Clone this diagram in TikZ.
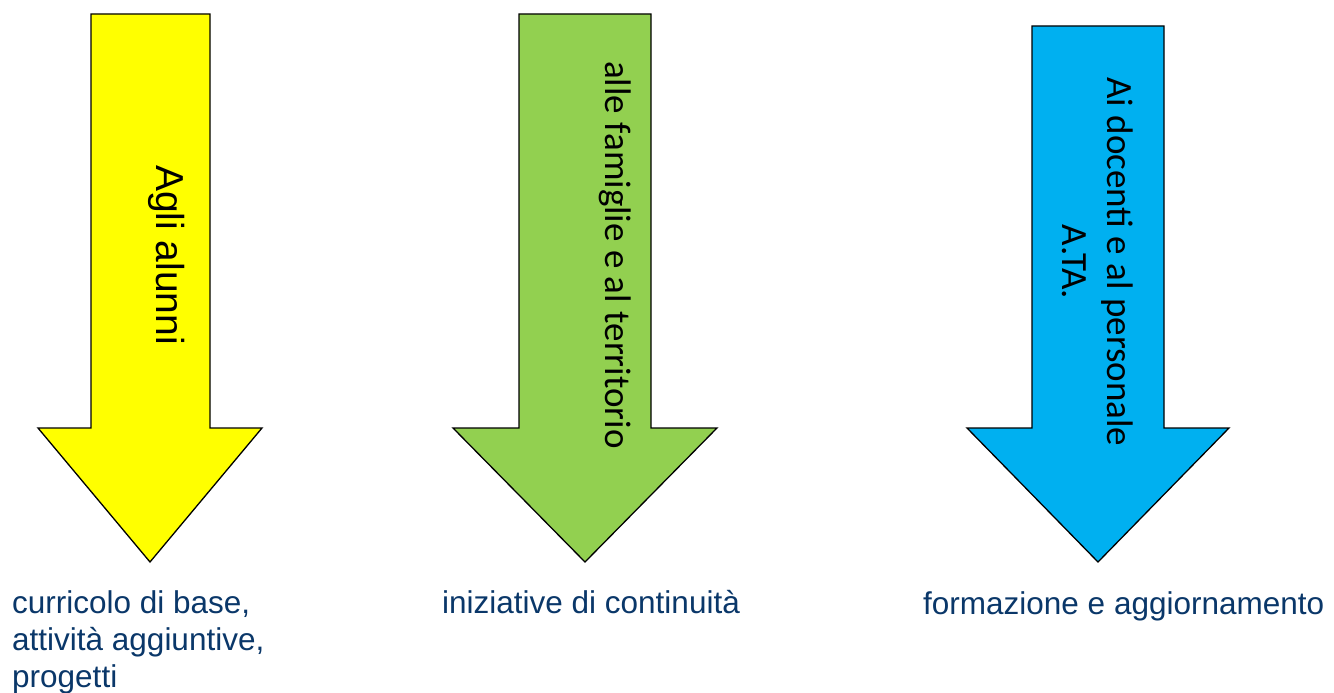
\documentclass[tikz,border=0pt]{standalone}
\usepackage{fontspec}
\setmainfont{Liberation Sans}
\newfontfamily\calibri{Carlito}
\definecolor{arrYellow}{HTML}{FFFF00}
\definecolor{arrGreen}{HTML}{92D050}
\definecolor{arrBlue}{HTML}{00B0F0}
\definecolor{capBlue}{RGB}{10,55,105}
\tikzset{
  bigarrow/.style={draw=black, line width=1.3pt, line join=miter},
  vlabel/.style={rotate=-90, inner sep=0pt, text=black},
  caption/.style={anchor=base west, inner sep=0pt, text=capBlue, font=\fontsize{31.5}{37}\selectfont}
}
\begin{document}
\begin{tikzpicture}[x=1pt,y=-1pt]
\useasboundingbox (0,0) rectangle (1334,693);
% arrows
\path[bigarrow, fill=arrYellow] (91,14) -- (210,14) -- (210,428) -- (262,428) -- (150,562) -- (38,428) -- (91,428) -- cycle;
\path[bigarrow, fill=arrGreen] (519,14) -- (651,14) -- (651,428) -- (717,428) -- (585,562) -- (453,428) -- (519,428) -- cycle;
\path[bigarrow, fill=arrBlue] (1032,26) -- (1164,26) -- (1164,428) -- (1229,428) -- (1098,562) -- (967,428) -- (1032,428) -- cycle;
% labels in arrows
\node[vlabel, anchor=base, font=\fontsize{39}{45}\selectfont] (t1) at (156,255) {Agli alunni};
\node[vlabel, anchor=base, font=\calibri\fontsize{37}{44}\selectfont] (t2) at (605,255) {alle famiglie e al territorio};
\node[vlabel, anchor=base, font=\calibri\fontsize{37}{44}\selectfont] (t3a) at (1107,262) {Ai docenti e al personale};
\node[vlabel, anchor=base, font=\calibri\fontsize{37}{44}\selectfont] (t3b) at (1062,262) {A.TA.};
% captions
\node[caption] (c1) at (12,613) {\vtop{\hbox{curricolo di base,}\hbox{attività aggiuntive,}\hbox{progetti}}};
\node[caption] (c2) at (442,613) {iniziative di continuità};
\node[caption] (c3) at (923,614) {formazione e aggiornamento};
\end{tikzpicture}
\end{document}
